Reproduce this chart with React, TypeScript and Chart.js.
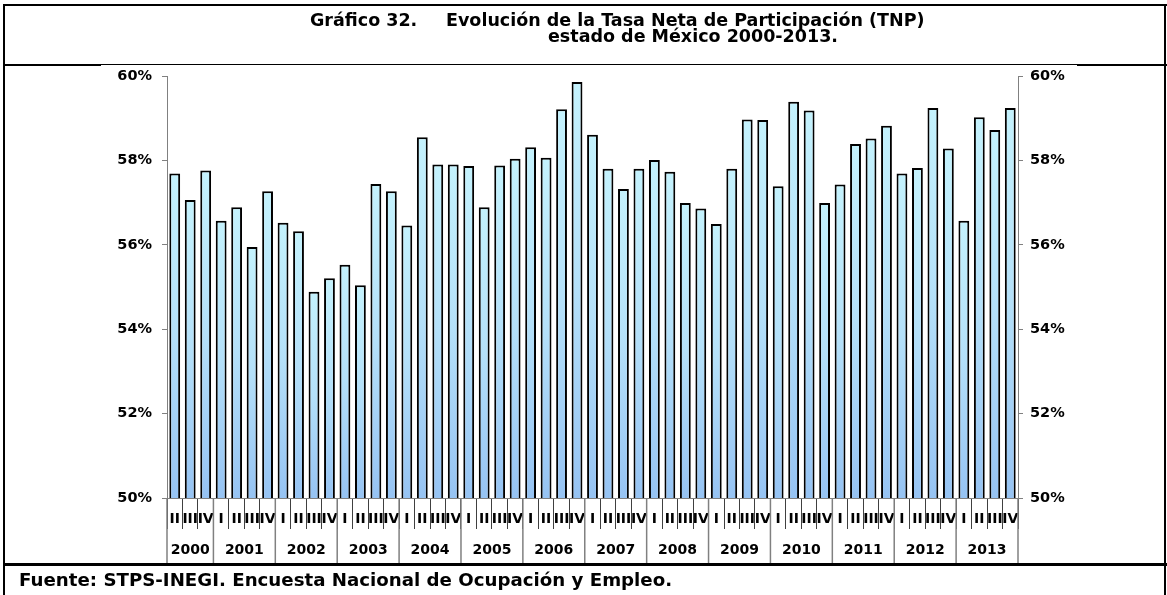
import { useEffect, useRef } from 'react';
import { Chart, registerables } from 'chart.js';

Chart.register(...registerables);

const quarterLabels = [
  'II', 'III', 'IV',
  'I', 'II', 'III', 'IV',
  'I', 'II', 'III', 'IV',
  'I', 'II', 'III', 'IV',
  'I', 'II', 'III', 'IV',
  'I', 'II', 'III', 'IV',
  'I', 'II', 'III', 'IV',
  'I', 'II', 'III', 'IV',
  'I', 'II', 'III', 'IV',
  'I', 'II', 'III', 'IV',
  'I', 'II', 'III', 'IV',
  'I', 'II', 'III', 'IV',
  'I', 'II', 'III', 'IV',
  'I', 'II', 'III', 'IV',
];

const yearLabels = ['2000', '2001', '2002', '2003', '2004', '2005', '2006', '2007', '2008', '2009', '2010', '2011', '2012', '2013'];
const quartersPerYear = [3, 4, 4, 4, 4, 4, 4, 4, 4, 4, 4, 4, 4, 4];

const tnpValues = [
  57.69, 57.06, 57.76,
  56.57, 56.89, 55.95, 57.27,
  56.52, 56.32, 54.89, 55.21,
  55.53, 55.04, 57.44, 57.27,
  56.46, 58.55, 57.9, 57.9,
  57.87, 56.89, 57.88, 58.04,
  58.31, 58.06, 59.21, 59.86,
  58.61, 57.8, 57.32, 57.8,
  58.01, 57.73, 56.99, 56.86,
  56.49, 57.8, 58.97, 58.96,
  57.39, 59.39, 59.18, 56.99,
  57.43, 58.39, 58.52, 58.82,
  57.69, 57.82, 59.24, 58.28,
  56.57, 59.02, 58.72, 59.24,
];

const yTicks = [50, 52, 54, 56, 58, 60];

const FONT = '"DejaVu Sans", sans-serif';

const yearPlugin = {
  id: 'yearLevel',
  afterDraw(chart: any) {
    const x = chart.scales.x;
    const area = chart.chartArea;
    const ctx = chart.ctx;
    const half = (x.getPixelForValue(1) - x.getPixelForValue(0)) / 2;
    ctx.save();
    ctx.font = `bold 14px ${FONT}`;
    ctx.textAlign = 'center';
    ctx.textBaseline = 'middle';
    ctx.fillStyle = '#000';
    const edges: number[] = [];
    let start = 0;
    yearLabels.forEach((label, i) => {
      const n = quartersPerYear[i];
      const left = x.getPixelForValue(start) - half;
      const right = x.getPixelForValue(start + n - 1) + half;
      ctx.fillText(label, (left + right) / 2, 550);
      edges.push(left);
      if (i === yearLabels.length - 1) edges.push(right);
      start += n;
    });
    ctx.strokeStyle = '#808080';
    ctx.lineWidth = 1.5;
    edges.forEach((e) => {
      ctx.beginPath();
      ctx.moveTo(e, area.bottom);
      ctx.lineTo(e, 563);
      ctx.stroke();
    });
    ctx.restore();
  },
};

export default function App() {
  const canvasRef = useRef<HTMLCanvasElement | null>(null);

  useEffect(() => {
    if (!canvasRef.current) return;
    const yAxisCommon = {
      type: 'linear' as const,
      min: 50,
      max: 60,
      afterBuildTicks: (scale: any) => {
        scale.ticks = yTicks.map((v) => ({ value: v }));
      },
      border: { color: '#808080', width: 1 },
      grid: { drawOnChartArea: false, drawTicks: true, tickLength: 5, color: '#808080' },
    };
    const chart = new Chart(canvasRef.current, {
      type: 'bar',
      data: {
        labels: quarterLabels,
        datasets: [
          {
            data: tnpValues,
            yAxisID: 'y',
            borderColor: '#000',
            borderWidth: 2,
            barPercentage: 0.7,
            categoryPercentage: 1,
            backgroundColor: (c: any) => {
              const chart = c.chart;
              const { ctx, chartArea, scales } = chart;
              if (!chartArea || c.type !== 'data') return '#bfe6fb';
              const top = scales.y.getPixelForValue(c.raw);
              const g = ctx.createLinearGradient(0, top, 0, chartArea.bottom);
              g.addColorStop(0, '#c4f2fd');
              g.addColorStop(0.5, '#b4e0f9');
              g.addColorStop(1, '#96c3f3');
              return g;
            },
          },
        ],
      },
      options: {
        animation: false,
        responsive: true,
        maintainAspectRatio: false,
        layout: { padding: { top: 76, left: 0, right: 0, bottom: 0 } },
        plugins: { legend: { display: false }, tooltip: { enabled: false }, title: { display: false } },
        scales: {
          x: {
            type: 'category',
            offset: true,
            afterFit: (s: any) => { s.height = 97; },
            border: { color: '#808080', width: 1 },
            grid: { offset: true, drawOnChartArea: false, drawTicks: true, tickLength: 31, color: '#404040', lineWidth: 1 },
            ticks: {
              autoSkip: false,
              maxRotation: 0,
              minRotation: 0,
              padding: -18,
              color: '#000',
              font: { family: FONT, size: 14, weight: 'bold' },
            },
          },
          y: {
            ...yAxisCommon,
            position: 'left',
            afterFit: (s: any) => { s.width = 167; },
            ticks: {
              padding: 10,
              color: '#000',
              font: { family: FONT, size: 14.5, weight: 'bold' },
              callback: (v: any) => `${v}%`,
            },
          },
          y2: {
            ...yAxisCommon,
            position: 'right',
            afterFit: (s: any) => { s.width = 149; },
            ticks: {
              padding: 7,
              color: '#000',
              font: { family: FONT, size: 14.5, weight: 'bold' },
              callback: (v: any) => `${v}%`,
            },
          },
        },
      },
      plugins: [yearPlugin],
    } as any);
    return () => chart.destroy();
  }, []);

  const textBase: any = {
    position: 'absolute',
    fontFamily: FONT,
    fontWeight: 'bold',
    whiteSpace: 'pre',
    color: '#000',
    margin: 0,
  };

  return (
    <div style={{ position: 'absolute', left: 0, top: 0, width: 1167, height: 595, overflow: 'hidden', background: '#fff' }}>
      <div style={{ position: 'absolute', left: 0, top: 0, width: 1167, height: 595 }}>
        <canvas ref={canvasRef} />
      </div>
      {/* frame */}
      <div style={{ position: 'absolute', left: 3, top: 4, width: 1164, height: 2, background: '#000' }} />
      <div style={{ position: 'absolute', left: 3, top: 4, width: 2, height: 600, background: '#000' }} />
      <div style={{ position: 'absolute', left: 1164, top: 4, width: 2, height: 600, background: '#000' }} />
      <div style={{ position: 'absolute', left: 3, top: 64, width: 98, height: 2, background: '#000' }} />
      <div style={{ position: 'absolute', left: 101, top: 64, width: 976, height: 1, background: '#000' }} />
      <div style={{ position: 'absolute', left: 1077, top: 64, width: 90, height: 2, background: '#000' }} />
      <div style={{ position: 'absolute', left: 3, top: 563, width: 1164, height: 3, background: '#000' }} />
      {/* title */}
      <div style={{ ...textBase, left: 310, top: 12.3, fontSize: 17.5, lineHeight: '17.5px' }}>Gráfico 32.</div>
      <div style={{ ...textBase, left: 446, top: 12.3, fontSize: 17.5, lineHeight: '17.5px' }}>Evolución de la Tasa Neta de Participación (TNP)</div>
      <div style={{ ...textBase, left: 548, top: 28.3, fontSize: 17.5, lineHeight: '17.5px' }}>estado de México 2000-2013.</div>
      {/* footer */}
      <div style={{ ...textBase, left: 19, top: 571.3, fontSize: 18.2, lineHeight: '18.2px' }}>Fuente: STPS-INEGI. Encuesta Nacional de Ocupación y Empleo.</div>
    </div>
  );
}
